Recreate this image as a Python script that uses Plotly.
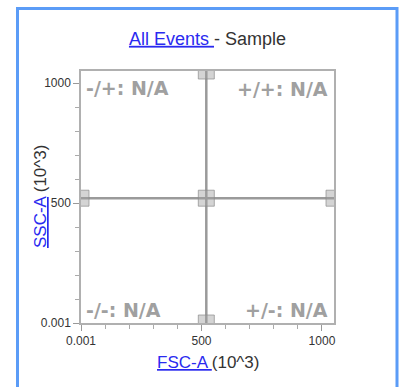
import plotly.graph_objects as go

# ---- data ----
axis_range = [0, 1050]
tick_vals = [0.001, 500, 1000]
tick_text = ["0.001", "500", "1000"]
gate_x = 520
gate_y = 520
quadrant_labels = ["-/+: N/A", "+/+: N/A", "-/-: N/A", "+/-: N/A"]
title_link = "All Events "
title_rest = "- Sample"
x_param, x_unit = "FSC-A ", "(10^3)"
y_param, y_unit = "SSC-A", " (10^3)"

LINK = "#2a2af0"
GATE = "#9a9a9a"
LABEL = "#a0a0a0"

PL, PT, PW, PH = 81, 71, 253, 252  # plot area in screen px
FW, FH = 399, 387

fig = go.Figure()
fig.add_trace(go.Scatter(x=[], y=[], mode="markers", showlegend=False))

axis_common = dict(
    range=axis_range, tickvals=tick_vals, ticktext=tick_text,
    showgrid=False, zeroline=False, showline=True, mirror=True,
    linecolor="#b0b0b0", linewidth=1.5,
    ticks="outside", ticklen=6, tickcolor="#999", tickwidth=1,
    minor=dict(dtick=100, tick0=0, ticks="outside", ticklen=4, tickcolor="#aaa"),
    tickfont=dict(family="Liberation Sans, Arial", size=12, color="#333"),
    fixedrange=True,
)
fig.update_xaxes(**axis_common)
fig.update_yaxes(**axis_common)


def px_x(sx):
    return (sx - PL) / PW


def px_y(sy):
    return (PT + PH - sy) / PH


shapes = []
# blue frame
shapes.append(dict(type="rect", xref="paper", yref="paper",
                   x0=px_x(17.5), x1=px_x(397),
                   y0=px_y(395), y1=px_y(8.5),
                   line=dict(color="#5b9cf7", width=3), layer="below"))
# gate lines
shapes.append(dict(type="line", xref="x", yref="y", x0=gate_x, x1=gate_x,
                   y0=axis_range[0], y1=axis_range[1], line=dict(color=GATE, width=2.5)))
shapes.append(dict(type="line", xref="x", yref="y", x0=axis_range[0], x1=axis_range[1],
                   y0=gate_y, y1=gate_y, line=dict(color=GATE, width=2.5)))
# handles
handle_pts = [(gate_x, axis_range[1]), (gate_x, axis_range[0]), (axis_range[0], gate_y),
              (axis_range[1], gate_y), (gate_x, gate_y)]
for hx, hy in handle_pts:
    shapes.append(dict(type="rect", xref="x", yref="y",
                       xsizemode="pixel", ysizemode="pixel",
                       xanchor=hx, yanchor=hy, x0=-8, x1=8, y0=-8, y1=8,
                       fillcolor="rgba(160,160,160,0.45)",
                       line=dict(color="rgba(140,140,140,0.7)", width=1)))
fig.update_layout(shapes=shapes)

qfont = dict(family="DejaVu Sans", size=19, color=LABEL, weight="bold")
ann = [
    dict(x=axis_range[0], y=axis_range[1], xref="x", yref="y", text=quadrant_labels[0],
         xanchor="left", yanchor="top", xshift=3, yshift=-4, showarrow=False, font=qfont),
    dict(x=axis_range[1], y=axis_range[1], xref="x", yref="y", text=quadrant_labels[1],
         xanchor="right", yanchor="top", xshift=-4, yshift=-5, showarrow=False, font=qfont),
    dict(x=axis_range[0], y=axis_range[0], xref="x", yref="y", text=quadrant_labels[2],
         xanchor="left", yanchor="bottom", xshift=3, yshift=0, showarrow=False, font=qfont),
    dict(x=axis_range[1], y=axis_range[0], xref="x", yref="y", text=quadrant_labels[3],
         xanchor="right", yanchor="bottom", xshift=-4, yshift=0, showarrow=False, font=qfont),
    dict(x=0.5, y=px_y(362), xref="paper", yref="paper", showarrow=False,
         xanchor="center", yanchor="middle",
         text=f'<span style="color:{LINK}"><u>{x_param}</u></span>{x_unit}',
         font=dict(family="Liberation Sans, Arial", size=17, color="#333")),
    dict(x=px_x(40), y=0.5, xref="paper", yref="paper", showarrow=False,
         xanchor="center", yanchor="middle", textangle=-90,
         text=f'<span style="color:{LINK}"><u>{y_param}</u></span>{y_unit}',
         font=dict(family="Liberation Sans, Arial", size=17, color="#333")),
]
fig.update_layout(annotations=ann)

fig.update_layout(
    width=FW, height=FH,
    margin=dict(l=PL, r=FW - PL - PW, t=PT, b=FH - PT - PH),
    paper_bgcolor="white", plot_bgcolor="white",
    title=dict(text=f'<span style="color:{LINK}"><u>{title_link}</u></span>{title_rest}',
               x=0.5, xref="paper", xanchor="center",
               y=1 - 38.5 / FH, yref="container", yanchor="middle",
               font=dict(family="Liberation Sans, Arial", size=18, color="#333")),
    showlegend=False,
)

fig.write_html(
    "out.html",
    config={"displayModeBar": False},
    post_script="document.body.style.margin='0';document.body.style.overflow='hidden';",
)
